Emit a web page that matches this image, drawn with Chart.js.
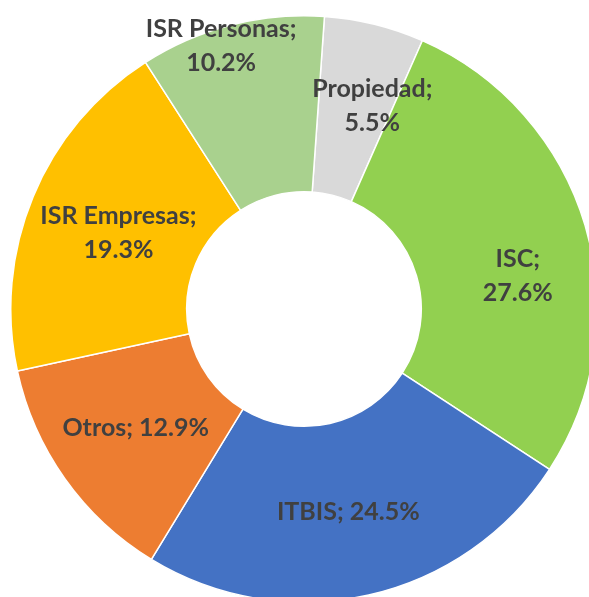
<!DOCTYPE html>
<html>
<head>
<meta charset="utf-8">
<script src="https://cdn.jsdelivr.net/npm/chart.js@4.4.1/dist/chart.umd.min.js"></script>
<style>
  html, body { margin: 0; padding: 0; background: #fff; overflow: hidden; width: 589px; height: 597px; }
  #wrap { position: absolute; left: 10px; top: 15px; width: 588px; height: 588px; }
</style>
</head>
<body>
<div id="wrap"><canvas id="myDonut"></canvas></div>
<script>
// recaudacion por impuesto (%)
var labels = ['Propiedad', 'ISC', 'ITBIS', 'Otros', 'ISR Empresas', 'ISR Personas'];
var shares = [5.5, 27.6, 24.5, 12.9, 19.3, 10.2];
var colors = ['#D9D9D9', '#92D050', '#4472C4', '#ED7D31', '#FFC000', '#A9D18E'];
// how each label is broken into lines
var twoLines = [true, true, false, false, true, true];

// nudges from the slice middle, like Excel's best fit
var nudge = [[19, -5], [17, 24], [-1, 2], [-1, -1], [4, 2], [-32, -65]];

var sliceLabels = {
    id: 'sliceLabels',
    afterDatasetsDraw: function(chart) {
        var ctx = chart.ctx;
        var meta = chart.getDatasetMeta(0);
        ctx.save();
        ctx.font = 'bold 25px Lato';
        ctx.fillStyle = '#404040';
        ctx.textAlign = 'center';
        ctx.textBaseline = 'alphabetic';
        meta.data.forEach(function(arc, i) {
            var p = arc.tooltipPosition();
            var x = p.x + nudge[i][0];
            var y = p.y + nudge[i][1];
            var pct = shares[i].toFixed(1) + '%';
            if (twoLines[i]) {
                ctx.fillText(labels[i] + ';', x, y - 17 + 9);
                ctx.fillText(pct, x, y + 17 + 9);
            } else {
                ctx.fillText(labels[i] + '; ' + pct, x, y + 9);
            }
        });
        ctx.restore();
    }
};

var donut = new Chart(document.getElementById('myDonut').getContext('2d'), {
    type: 'doughnut',
    data: {
        labels: labels,
        datasets: [{
            data: shares,
            backgroundColor: colors,
            borderColor: '#ffffff',
            borderWidth: 1.5
        }]
    },
    options: {
        responsive: true,
        maintainAspectRatio: false,
        animation: false,
        cutout: '40%',
        rotation: 4,
        layout: { padding: 0 },
        plugins: {
            legend: { display: false },
            tooltip: { enabled: false }
        }
    },
    plugins: [sliceLabels]
});
</script>
</body>
</html>
